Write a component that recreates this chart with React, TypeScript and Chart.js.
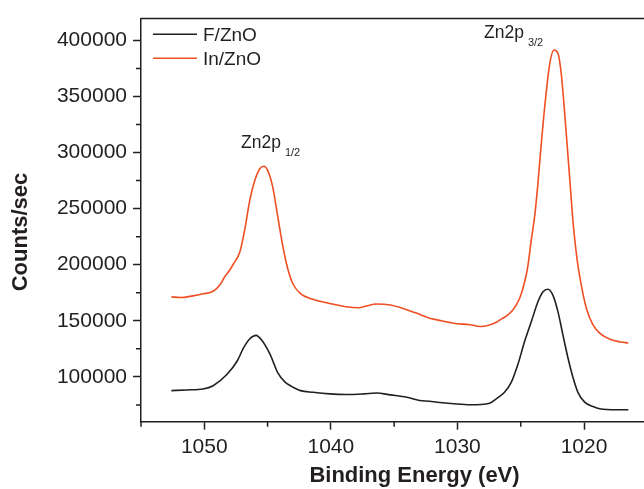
import React, { useEffect, useRef } from "react";
import { Chart, registerables } from "chart.js";

Chart.register(...registerables);

// ---- data ----
const fzEnergy = [
  1052.6, 1051.4, 1050.1, 1049.3, 1048.2, 1047.4, 1046.9, 1046.4, 1045.9, 1045.5,
  1044.8, 1044.2, 1043.6, 1043.2, 1042.4, 1041.4, 1040.1, 1038.8, 1037.4, 1036.4,
  1035.3, 1034.0, 1033.0, 1032.2, 1031.6, 1030.3, 1029.0, 1027.46, 1026.93, 1026.28,
  1025.75, 1025.22, 1024.69, 1024.16, 1023.64, 1023.25, 1022.85, 1022.46, 1022.06, 1021.67,
  1021.27, 1020.87, 1020.48, 1019.95, 1019.29, 1018.76, 1017.4, 1016.5,
];
const fzCounts = [
  87700, 88300, 89200, 92100, 102300, 114100, 125800, 134000, 137000, 133200,
  120000, 103800, 95000, 92100, 87700, 86200, 84800, 84200, 84800, 85600,
  83900, 81800, 78900, 78300, 77400, 76000, 75100, 76500, 80400, 86200,
  95000, 111200, 131700, 149300, 166900, 175700, 178100, 172800, 158100, 137600,
  117000, 99400, 86200, 77400, 73600, 71600, 70700, 70700,
];
const inEnergy = [
  1052.6, 1051.9, 1050.9, 1050.1, 1049.3, 1048.7, 1048.4, 1048.0, 1047.7, 1047.2,
  1046.8, 1046.4, 1046.0, 1045.6, 1045.3, 1045.0, 1044.6, 1044.2, 1043.8, 1043.4,
  1043.0, 1042.4, 1041.5, 1040.1, 1038.8, 1037.8, 1037.2, 1036.4, 1035.3, 1034.3,
  1033.2, 1032.2, 1031.6, 1030.3, 1029.0, 1028.2, 1027.46, 1026.93, 1026.54, 1026.14,
  1025.62, 1025.09, 1024.69, 1024.43, 1024.16, 1023.9, 1023.64, 1023.51, 1023.11, 1022.72,
  1022.38, 1022.06, 1021.79, 1021.4, 1021.1, 1020.85, 1020.55, 1020.21, 1019.81, 1019.29,
  1018.76, 1017.9, 1017.1, 1016.5,
];
const inCounts = [
  171300, 170700, 172200, 174000, 176300, 183000, 189000, 195000, 200600, 211000,
  231400, 257800, 275400, 285700, 287800, 284300, 269600, 243200, 216800, 196200,
  183000, 174200, 169300, 165400, 162500, 161600, 163100, 164900, 164000, 161000,
  156600, 152200, 150800, 147800, 146400, 144900, 146300, 148600, 151500, 154200,
  159600, 169800, 184500, 199200, 222600, 243000, 272500, 290100, 340100, 378200,
  391400, 388500, 369400, 316600, 272500, 236000, 205000, 181600, 161000, 146400,
  139000, 133200, 131100, 130200,
];
const seriesNames = ["F/ZnO", "In/ZnO"];
const xMajorTicks = [1050, 1040, 1030, 1020];
const xMinorTicks = [1055, 1045, 1035, 1025];
const yMajorTicks = [100000, 150000, 200000, 250000, 300000, 350000, 400000];
const yMinorTicks = [75000, 125000, 175000, 225000, 275000, 325000, 375000];
const peakLabels = [
  { main: "Zn2p", sub: "1/2" },
  { main: "Zn2p", sub: "3/2" },
];
const xTitle = "Binding Energy (eV)";
const yTitle = "Counts/sec";

const FONT = "'Liberation Sans', Arial, sans-serif";
const INK = "#231f20";
const RED = "#f04e23";

const decorPlugin = {
  id: "decor",
  afterDraw(chart: any) {
    const { ctx, chartArea, scales } = chart;
    const { left, top, right, bottom } = chartArea;
    const x = scales.x;
    const y = scales.y;
    ctx.save();
    ctx.strokeStyle = INK;
    ctx.lineWidth = 1.5;
    // top frame line
    ctx.beginPath();
    ctx.moveTo(left, top);
    ctx.lineTo(right, top);
    ctx.stroke();
    // minor ticks
    ctx.beginPath();
    xMinorTicks.forEach((v) => {
      const px = x.getPixelForValue(v);
      ctx.moveTo(px, bottom);
      ctx.lineTo(px, bottom + 5);
    });
    yMinorTicks.forEach((v) => {
      const py = y.getPixelForValue(v);
      ctx.moveTo(left - 5, py);
      ctx.lineTo(left, py);
    });
    ctx.stroke();

    // legend
    const legendColors = [INK, RED];
    const legendY = [34.3, 58.3];
    ctx.font = `19px ${FONT}`;
    ctx.textBaseline = "middle";
    ctx.textAlign = "left";
    seriesNames.forEach((name, i) => {
      ctx.strokeStyle = legendColors[i];
      ctx.lineWidth = 1.6;
      ctx.beginPath();
      ctx.moveTo(153, legendY[i]);
      ctx.lineTo(197, legendY[i]);
      ctx.stroke();
      ctx.fillStyle = INK;
      ctx.fillText(name, 203, legendY[i] + 1);
    });

    // peak annotations
    const pos = [
      { x: 241, y: 148.3 },
      { x: 484, y: 38.3 },
    ];
    ctx.textBaseline = "alphabetic";
    ctx.fillStyle = INK;
    peakLabels.forEach((p, i) => {
      ctx.font = `17.5px ${FONT}`;
      ctx.fillText(p.main, pos[i].x, pos[i].y);
      const w = ctx.measureText(p.main).width;
      ctx.font = `11px ${FONT}`;
      ctx.fillText(p.sub, pos[i].x + w + 4, pos[i].y + 8);
    });

    // axis titles
    ctx.font = `bold 22px ${FONT}`;
    ctx.textAlign = "center";
    ctx.textBaseline = "middle";
    ctx.fillText(xTitle, 414.5, 476);
    ctx.translate(21, 232);
    ctx.rotate(-Math.PI / 2);
    ctx.fillText(yTitle, 0, 0);
    ctx.restore();
  },
};

export default function App() {
  const ref = useRef<HTMLCanvasElement | null>(null);
  useEffect(() => {
    if (!ref.current) return;
    const chart = new Chart(ref.current, {
      type: "line",
      data: {
        datasets: [
          {
            label: seriesNames[0],
            data: fzEnergy.map((e, i) => ({ x: e, y: fzCounts[i] })),
            borderColor: INK,
            borderWidth: 1.6,
            pointRadius: 0,
            fill: false,
            cubicInterpolationMode: "monotone",
          },
          {
            label: seriesNames[1],
            data: inEnergy.map((e, i) => ({ x: e, y: inCounts[i] })),
            borderColor: RED,
            borderWidth: 1.6,
            pointRadius: 0,
            fill: false,
            cubicInterpolationMode: "monotone",
          },
        ],
      },
      options: {
        animation: false,
        responsive: false,
        devicePixelRatio: 1,
        layout: { padding: { top: 13, left: 0, right: 0, bottom: 0 } },
        plugins: {
          legend: { display: false },
          tooltip: { enabled: false },
        },
        scales: {
          x: {
            type: "linear",
            reverse: true,
            min: 1015.26,
            max: 1055,
            afterBuildTicks: (s: any) => {
              s.ticks = xMajorTicks.map((v) => ({ value: v }));
            },
            afterFit: (s: any) => {
              s.height = 67.3;
            },
            ticks: {
              color: INK,
              font: { family: FONT, size: 21 },
              padding: 5,
              maxRotation: 0,
              callback: (v: any) => String(v),
            },
            grid: {
              drawOnChartArea: false,
              drawTicks: true,
              tickLength: 8,
              tickWidth: 1.5,
              tickColor: INK,
            },
            border: { display: true, color: INK, width: 1.5 },
          },
          y: {
            type: "linear",
            min: 60000,
            max: 419400,
            afterBuildTicks: (s: any) => {
              s.ticks = yMajorTicks.map((v) => ({ value: v }));
            },
            afterFit: (s: any) => {
              s.width = 141;
            },
            ticks: {
              color: INK,
              font: { family: FONT, size: 21 },
              padding: 6,
              callback: (v: any) => String(v),
            },
            grid: {
              drawOnChartArea: false,
              drawTicks: true,
              tickLength: 8,
              tickWidth: 1.5,
              tickColor: INK,
            },
            border: { display: true, color: INK, width: 1.5 },
          },
        },
      },
      plugins: [decorPlugin],
    });
    return () => chart.destroy();
  }, []);
  return (
    <div style={{ position: "absolute", left: 0, top: 0, width: 644, height: 489, overflow: "hidden", background: "#fff" }}>
      <canvas ref={ref} width={644} height={489} style={{ display: "block" }} />
    </div>
  );
}
